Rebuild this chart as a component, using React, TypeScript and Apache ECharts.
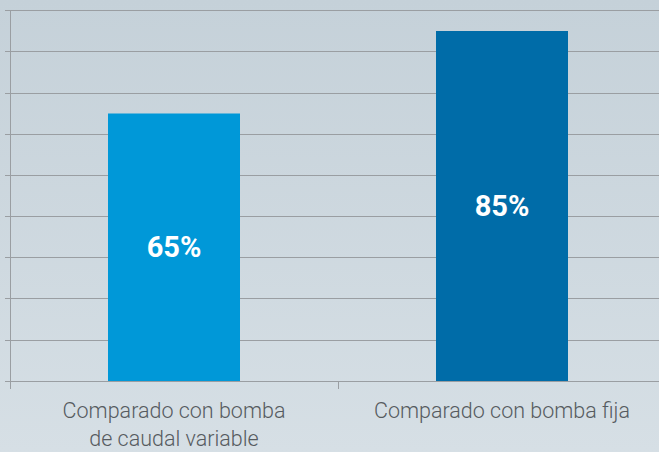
import React, { useEffect, useRef } from "react";
import * as echarts from "echarts";

const categories = ["Comparado con bomba\nde caudal variable", "Comparado con bomba fija"];
const values = [65, 85];
const barColors = ["#0098d8", "#006ca8"];
const yMin = 0;
const yMax = 90;
const yInterval = 10;

export default function App() {
  const ref = useRef<HTMLDivElement>(null);
  useEffect(() => {
    document.body.style.margin = "0";
    const chart = echarts.init(ref.current!, undefined, { renderer: "svg" });
    chart.setOption({
      animation: false,
      backgroundColor: "transparent",
      grid: { left: 10, right: 14, top: 10.5, bottom: 69.5, containLabel: false },
      xAxis: {
        type: "category",
        data: categories,
        axisLine: { show: true, lineStyle: { color: "#9a9ea2", width: 1 } },
        axisTick: { show: true, interval: 0, length: 8, lineStyle: { color: "#9a9ea2" } },
        axisLabel: {
          interval: 0,
          color: "#565b60",
          fontFamily: "Roboto, sans-serif",
          fontWeight: 300,
          fontSize: 21.5,
          lineHeight: 28,
          margin: 15,
        },
      },
      yAxis: {
        type: "value",
        min: yMin,
        max: yMax,
        interval: yInterval,
        axisLine: { show: true, lineStyle: { color: "#9a9ea2", width: 1 } },
        axisTick: { show: true, length: 5, lineStyle: { color: "#9a9ea2" } },
        axisLabel: { show: false },
        splitLine: { show: true, lineStyle: { color: "#9a9ea2", width: 1 } },
      },
      series: [
        {
          type: "bar",
          data: values.map((v, i) => ({ value: v, itemStyle: { color: barColors[i] } })),
          barWidth: 132,
          label: {
            show: true,
            position: "inside",
            formatter: "{c}%",
            color: "#ffffff",
            fontFamily: "Roboto, sans-serif",
            fontWeight: "bold",
            fontSize: 29,
          },
        },
      ],
    });
    return () => chart.dispose();
  }, []);
  return (
    <div
      style={{
        position: "fixed",
        left: 0,
        top: 0,
        width: 659,
        height: 452,
        overflow: "hidden",
        background: "linear-gradient(180deg, #c5d1d9 0%, #d6dfe5 100%)",
      }}
    >
      <div ref={ref} style={{ width: 680, height: 452 }} />
    </div>
  );
}
